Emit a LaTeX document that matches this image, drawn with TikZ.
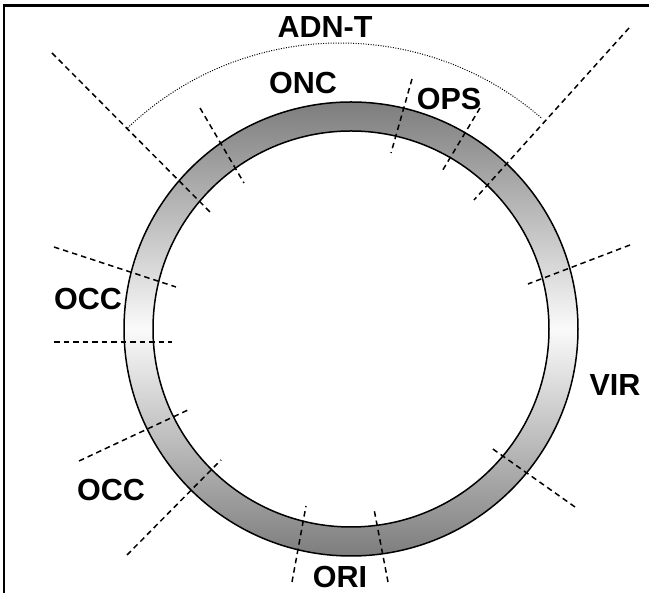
\documentclass[tikz,border=0pt]{standalone}
\usepackage{fontspec}
\setmainfont{Liberation Sans}
\begin{document}
\begin{tikzpicture}[x=1pt,y=1pt,
  lbl/.style={font=\fontsize{30.5}{36}\selectfont\bfseries, inner sep=0pt, anchor=center},
  cut/.style={draw=black, line width=1.5pt, dash pattern=on 5.5pt off 4pt},
  rim/.style={draw=black, line width=1.5pt},
  frameline/.style={draw=black, line width=2.2pt}]
\useasboundingbox (0,0) rectangle (649,593);
\fill[white] (0,0) rectangle (649,593);
% frame (top and left edges only)
\draw[frameline] (4.3,0) -- (4.3,587.5) -- (649,587.5);
% ring
\coordinate (C) at (351,264);
\shade[even odd rule, top color={rgb,255:red,125;green,125;blue,125}, bottom color={rgb,255:red,125;green,125;blue,125}, middle color={rgb,255:red,250;green,250;blue,250}]
  (C) circle[radius=227] (C) circle[radius=198];
\draw[rim] (C) circle[radius=227];
\draw[rim] (C) circle[radius=198];
% dotted arc
\draw[line width=1pt, dash pattern=on 1pt off 1.5pt] (340,242) ++(133.6:308) arc[start angle=133.6, end angle=49.1, radius=308];
% dashed separators
\draw[cut] (52,540) -- (211,380);
\draw[cut] (200,485) -- (244,410);
\draw[cut] (412,514) -- (391,440);
\draw[cut] (480,485) -- (441,420);
\draw[cut] (629,565) -- (474,393);
\draw[cut] (54,346) -- (176,306);
\draw[cut] (54,251) -- (172,251);
\draw[cut] (630,348) -- (528,309);
\draw[cut] (79,132) -- (188,183);
\draw[cut] (127,38) -- (221,133);
\draw[cut] (292,11) -- (306,87);
\draw[cut] (388,11) -- (374,84);
\draw[cut] (575,86) -- (490,146);
% labels
\node[lbl] (adnt) at (325,566) {ADN-T};
\node[lbl] (onc) at (303,510) {ONC};
\node[lbl] (ops) at (449,494) {OPS};
\node[lbl] (occa) at (88,294) {OCC};
\node[lbl] (vir) at (615,208) {VIR};
\node[lbl] (occb) at (111,103) {OCC};
\node[lbl] (ori) at (340,16) {ORI};
\end{tikzpicture}
\end{document}
